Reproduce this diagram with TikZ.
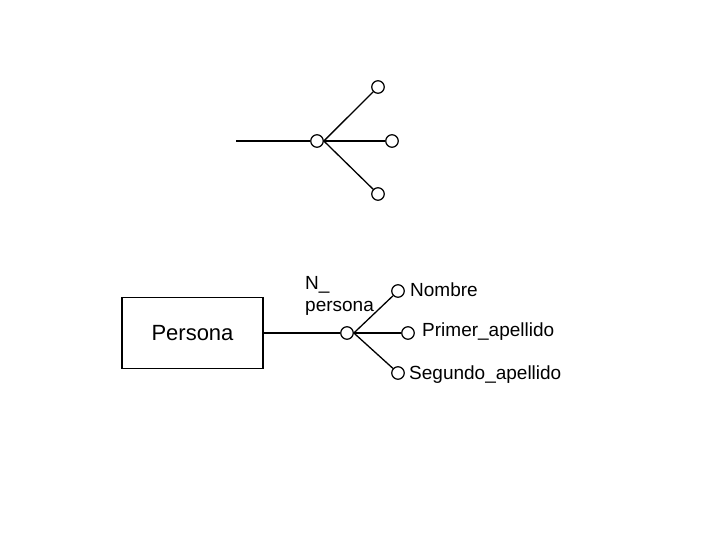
\documentclass[tikz,border=0pt]{standalone}
\usepackage{fontspec}
\setmainfont{Liberation Sans}
\begin{document}
\begin{tikzpicture}[x=1pt,y=-1pt,
  ln/.style={line width=1.3pt},
  dot/.style={circle,draw,line width=1.2pt,minimum size=12.5pt,inner sep=0pt,fill=white},
  lbl/.style={font=\fontsize{19}{22}\selectfont,inner sep=0pt,anchor=west}]
\useasboundingbox (0,0) rectangle (720,540);
% top diagram
\coordinate (t0) at (236,141);
\node[dot] (tc) at (317,141) {};
\node[dot] (t1) at (378,87) {};
\node[dot] (t2) at (392,141) {};
\node[dot] (t3) at (378,194) {};
\draw[ln] (t0) -- (tc);
\draw[ln] (tc.east) -- (t1);
\draw[ln] (tc.east) -- (t2);
\draw[ln] (tc.east) -- (t3);
% bottom diagram
\node[draw,line width=1.1pt,minimum width=141pt,minimum height=71pt,inner sep=0pt,
  font=\fontsize{22}{25}\selectfont] (p) at (192.5,333) {Persona};
\node[dot] (bc) at (347,333) {};
\node[dot] (b1) at (398,291) {};
\node[dot] (b2) at (408,333) {};
\node[dot] (b3) at (398,373) {};
\draw[ln] (p.east) -- (bc);
\draw[ln] (bc.east) -- (b1);
\draw[ln] (bc.east) -- (b2);
\draw[ln] (bc.east) -- (b3);
\node[lbl] (nn1) at (305,285) {N\_};
\node[lbl] (nn2) at (305,308) {persona};
\node[lbl] (l1) at (410,290) {Nombre};
\node[lbl] (l2) at (422,332) {Primer\_apellido};
\node[lbl] (l3) at (409,375) {Segundo\_apellido};
\end{tikzpicture}
\end{document}
